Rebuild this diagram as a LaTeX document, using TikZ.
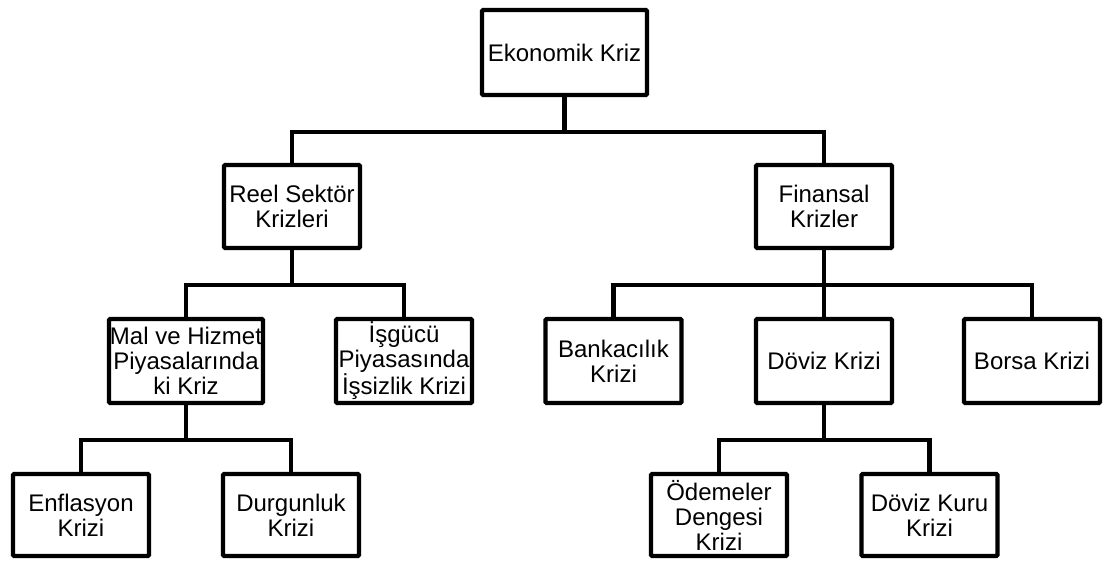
\documentclass[tikz,border=0pt]{standalone}
\usepackage{fontspec}
\setmainfont{Liberation Sans}
\begin{document}
\begin{tikzpicture}[x=1pt, y=-1pt, line width=4.2pt,
  kutu/.style={draw, rectangle, rounded corners=1pt, align=center, inner sep=0pt,
    minimum width=136pt, minimum height=82pt, font=\fontsize{24}{25}\selectfont},
  bag/.style={line join=miter}]
\useasboundingbox (0,0) rectangle (1104,561);
\node[kutu, minimum width=165pt, minimum height=85pt] (eko) at (564.5,52.5) {Ekonomik Kriz};
\node[kutu, minimum height=83pt] (reel) at (292,206.5) {Reel Sektör\\Krizleri};
\node[kutu, minimum height=83pt] (fin) at (824,206.5) {Finansal\\Krizler};
\node[kutu, minimum width=154pt, minimum height=84pt] (mal) at (186,361) {Mal ve Hizmet\\Piyasalarında\\ki Kriz};
\node[kutu, minimum height=84pt] (isgucu) at (404,361) {İşgücü\\Piyasasında\\İşsizlik Krizi};
\node[kutu, minimum height=84pt] (banka) at (613.5,361) {Bankacılık\\Krizi};
\node[kutu, minimum height=84pt] (doviz) at (824,361) {Döviz Krizi};
\node[kutu, minimum height=84pt] (borsa) at (1032,361) {Borsa Krizi};
\node[kutu] (enf) at (81,515) {Enflasyon\\Krizi};
\node[kutu] (durg) at (291,515) {Durgunluk\\Krizi};
\node[kutu] (odeme) at (719,515) {Ödemeler\\Dengesi\\Krizi};
\node[kutu] (kur) at (929.5,515) {Döviz Kuru\\Krizi};
\draw[bag] (eko.south) -- ++(0,35) -| (reel.north);
\draw[bag] (eko.south) -- ++(0,35) -| (fin.north);
\draw[bag] (reel.south) -- ++(0,35) -| (mal.north);
\draw[bag] (reel.south) -- ++(0,35) -| (isgucu.north);
\draw[bag] (fin.south) -- ++(0,35) -| (banka.north);
\draw[bag] (fin.south) -- ++(0,35) -| (doviz.north);
\draw[bag] (fin.south) -- ++(0,35) -| (borsa.north);
\draw[bag] (mal.south) -- ++(0,35) -| (enf.north);
\draw[bag] (mal.south) -- ++(0,35) -| (durg.north);
\draw[bag] (doviz.south) -- ++(0,35) -| (odeme.north);
\draw[bag] (doviz.south) -- ++(0,35) -| (kur.north);
\end{tikzpicture}
\end{document}
